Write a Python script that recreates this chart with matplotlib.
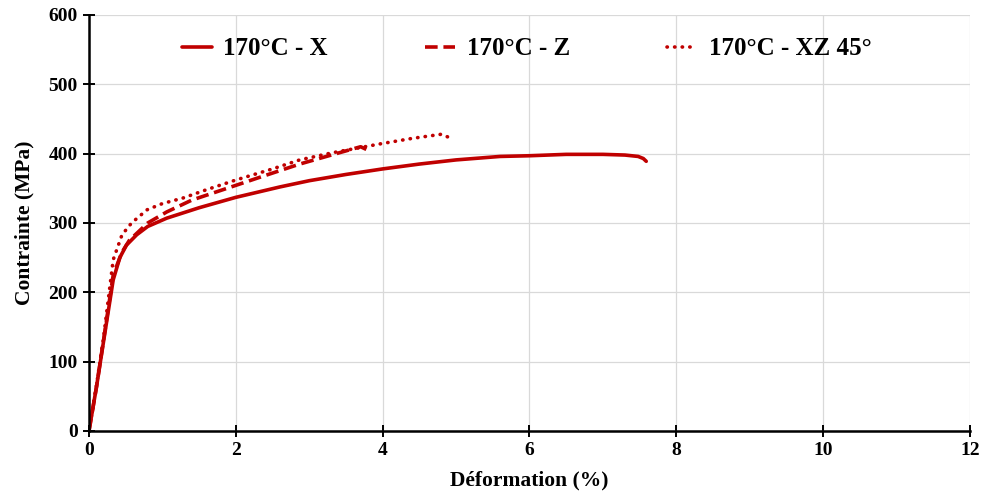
import numpy as np
import matplotlib.pyplot as plt

# courbes contrainte-deformation
eps_x = [0, 0.10, 0.20, 0.33, 0.42, 0.51, 0.65, 0.80, 1.06, 1.5, 2.0, 2.6, 3.0, 3.5, 4.0,
         4.5, 5.0, 5.6, 6.0, 6.5, 7.0, 7.3, 7.48, 7.55, 7.59]
sig_x = [0, 62, 130, 218, 250, 268, 283, 295, 307, 322, 337, 352, 361, 370, 378,
         385, 391, 396, 397, 399, 399, 398, 396, 393, 389]

eps_z = [0, 0.10, 0.20, 0.33, 0.45, 0.55, 0.65, 0.80, 1.06, 1.4, 1.88, 2.3, 2.87, 3.3, 3.7, 3.8]
sig_z = [0, 62, 132, 225, 258, 275, 285, 300, 316, 333, 350, 365, 385, 398, 410, 405]

eps_xz = [0, 0.10, 0.20, 0.33, 0.45, 0.58, 0.79, 1.0, 1.28, 1.6, 2.0, 2.5, 2.87, 3.3, 3.96,
          4.4, 4.80, 4.89]
sig_xz = [0, 64, 136, 247, 283, 300, 319, 328, 336, 348, 362, 378, 391, 401, 414,
          422, 428, 424]

labels = ['170°C - X', '170°C - Z', '170°C - XZ 45°']

plt.rcParams['font.family'] = ['Liberation Serif', 'DejaVu Serif']
plt.rcParams['font.weight'] = 'bold'

fig = plt.figure(figsize=(9.82, 4.95), dpi=100)
ax = fig.add_axes([0.0906, 0.1293, 0.8972, 0.8404])

red = '#C00000'
ax.plot(eps_x, sig_x, color=red, lw=2.6, solid_capstyle='round', label=labels[0])
ax.plot(eps_z, sig_z, color=red, lw=2.6, linestyle=(0, (3.5, 1.6)), label=labels[1])
ax.plot(eps_xz, sig_xz, color=red, lw=2.6, linestyle=(0, (0.1, 2.0)),
        dash_capstyle='round', label=labels[2])

ax.set_xlim(0, 12)
ax.set_ylim(0, 600)
ax.set_xticks(np.arange(0, 13, 2))
ax.set_yticks(np.arange(0, 601, 100))
ax.grid(True, color='#d9d9d9', lw=0.9)
ax.set_axisbelow(True)
for s in ['top', 'right']:
    ax.spines[s].set_visible(False)
for s in ['left', 'bottom']:
    ax.spines[s].set_linewidth(1.8)
ax.tick_params(direction='inout', length=9, width=1.4, labelsize=14)
for lab in ax.get_xticklabels() + ax.get_yticklabels():
    lab.set_fontweight('bold')

ax.set_xlabel('Déformation (%)', fontsize=15.5, fontweight='bold', labelpad=8)
ax.set_ylabel('Contrainte (MPa)', fontsize=15.5, fontweight='bold', labelpad=10)

ax.legend(loc='upper center', bbox_to_anchor=(0.497, 1.0), ncol=3, frameon=False,
          prop={'size': 18, 'weight': 'bold'}, handlelength=1.2, handletextpad=0.45,
          columnspacing=3.9)

fig.savefig('out.png', dpi=100)
